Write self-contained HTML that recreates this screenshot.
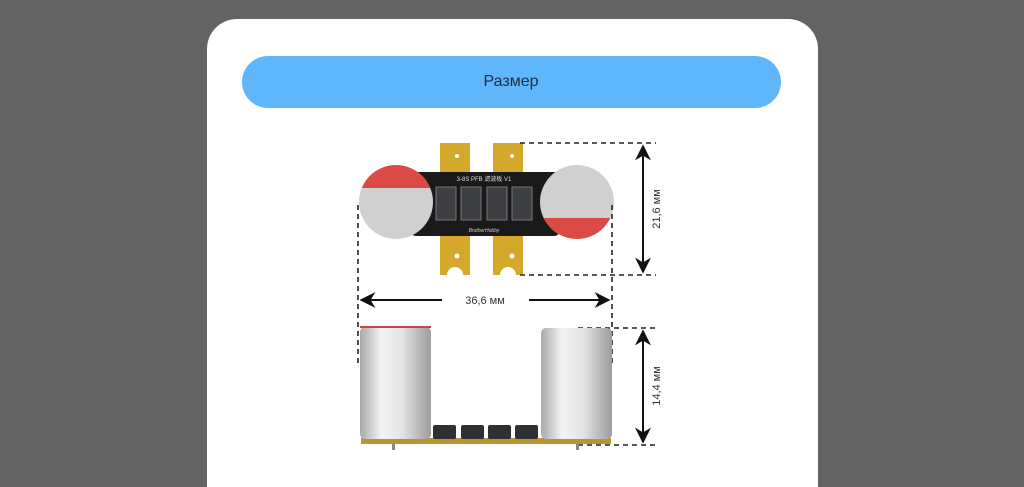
<!DOCTYPE html>
<html><head><meta charset="utf-8"><style>
html,body{margin:0;padding:0;background:#636363;width:1024px;height:487px;overflow:hidden}
svg{display:block}
text{font-family:"Liberation Sans",sans-serif}
</style></head><body>
<svg width="1024" height="487" viewBox="0 0 1024 487" xmlns="http://www.w3.org/2000/svg">
<defs>
<linearGradient id="cyl" x1="0" x2="1" y1="0" y2="0">
<stop offset="0" stop-color="#a9a9a9"/><stop offset="0.3" stop-color="#f4f4f4"/><stop offset="0.6" stop-color="#e2e2e2"/><stop offset="1" stop-color="#9c9c9c"/></linearGradient>
<marker id="ah" viewBox="0 0 10 10" refX="9" refY="5" markerWidth="8" markerHeight="8" orient="auto-start-reverse"><path d="M0,0 L10,5 L0,10 L3,5 z" fill="#111"/></marker>
<clipPath id="cl"><circle cx="396" cy="202" r="37"/></clipPath>
<clipPath id="cr"><circle cx="577" cy="202" r="37"/></clipPath>
</defs>
<path d="M207,49 a30,30 0 0 1 30,-30 H788 a30,30 0 0 1 30,30 V487 H207 z" fill="#fff"/>
<rect x="242" y="56" width="539" height="52" rx="26" fill="#60b6fb"/>
<text x="511" y="86" text-anchor="middle" font-size="16" fill="#1b2b44">Размер</text>

<rect x="440" y="143" width="30" height="132" fill="#d4a82a"/>
<rect x="493" y="143" width="30" height="132" fill="#d4a82a"/>
<circle cx="457" cy="156" r="2" fill="#fff"/><circle cx="512" cy="156" r="2" fill="#fff"/>
<circle cx="457" cy="256" r="2.5" fill="#fff"/><circle cx="512" cy="256" r="2.5" fill="#fff"/>
<path d="M447,275 a8,8 0 0 1 16,0z" fill="#fff"/><path d="M500,275 a8,8 0 0 1 16,0z" fill="#fff"/>
<rect x="410" y="172" width="150" height="64" rx="6" fill="#1a1a1a"/>
<text x="484" y="181" font-size="6" fill="#ddd" text-anchor="middle">3-8S PFB 滤波板 V1</text>
<text x="484" y="232" font-size="5" fill="#ccc" text-anchor="middle" font-style="italic">BrotherHobby</text>
<g fill="#3d3f42" stroke="#777" stroke-width="1">
<rect x="436" y="187" width="20" height="33"/><rect x="461" y="187" width="20" height="33"/>
<rect x="487" y="187" width="20" height="33"/><rect x="512" y="187" width="20" height="33"/></g>
<g clip-path="url(#cl)"><rect x="359" y="165" width="74" height="74" fill="#d0d0d0"/><rect x="359" y="165" width="74" height="23" fill="#db4a45"/></g>
<g clip-path="url(#cr)"><rect x="540" y="165" width="74" height="74" fill="#d0d0d0"/><rect x="540" y="218" width="74" height="21" fill="#db4a45"/></g>

<g stroke="#222" stroke-width="1.6" stroke-dasharray="5,4" fill="none">
<line x1="520" y1="143" x2="656" y2="143"/><line x1="520" y1="275" x2="656" y2="275"/>
<line x1="358" y1="205" x2="358" y2="365"/><line x1="612" y1="205" x2="612" y2="365"/>
<line x1="578" y1="328" x2="656" y2="328"/><line x1="578" y1="445" x2="656" y2="445"/>
</g>
<g stroke="#111" stroke-width="2" fill="none">
<line x1="643" y1="146" x2="643" y2="272" marker-start="url(#ah)" marker-end="url(#ah)"/>
<line x1="361" y1="300" x2="442" y2="300" marker-start="url(#ah)"/>
<line x1="529" y1="300" x2="609" y2="300" marker-end="url(#ah)"/>
<line x1="643" y1="331" x2="643" y2="442" marker-start="url(#ah)" marker-end="url(#ah)"/>
</g>
<text x="485" y="304" font-size="11" text-anchor="middle" fill="#333">36,6 мм</text>
<text transform="translate(660,209) rotate(-90)" font-size="11" text-anchor="middle" fill="#333">21,6 мм</text>
<text transform="translate(660,386) rotate(-90)" font-size="11" text-anchor="middle" fill="#333">14,4 мм</text>

<rect x="361" y="438" width="250" height="6" fill="#b8962e"/>
<rect x="360" y="327" width="71" height="112" rx="5" fill="url(#cyl)"/>
<rect x="360" y="326" width="71" height="2" fill="#c44"/>
<rect x="541" y="328" width="71" height="111" rx="5" fill="url(#cyl)"/>
<g fill="#2e3033"><rect x="433" y="425" width="23" height="14" rx="2"/><rect x="461" y="425" width="23" height="14" rx="2"/>
<rect x="488" y="425" width="23" height="14" rx="2"/><rect x="515" y="425" width="23" height="14" rx="2"/></g>
<rect x="392" y="444" width="3" height="6" fill="#888"/><rect x="576" y="444" width="3" height="6" fill="#888"/>
</svg>
</body></html>
